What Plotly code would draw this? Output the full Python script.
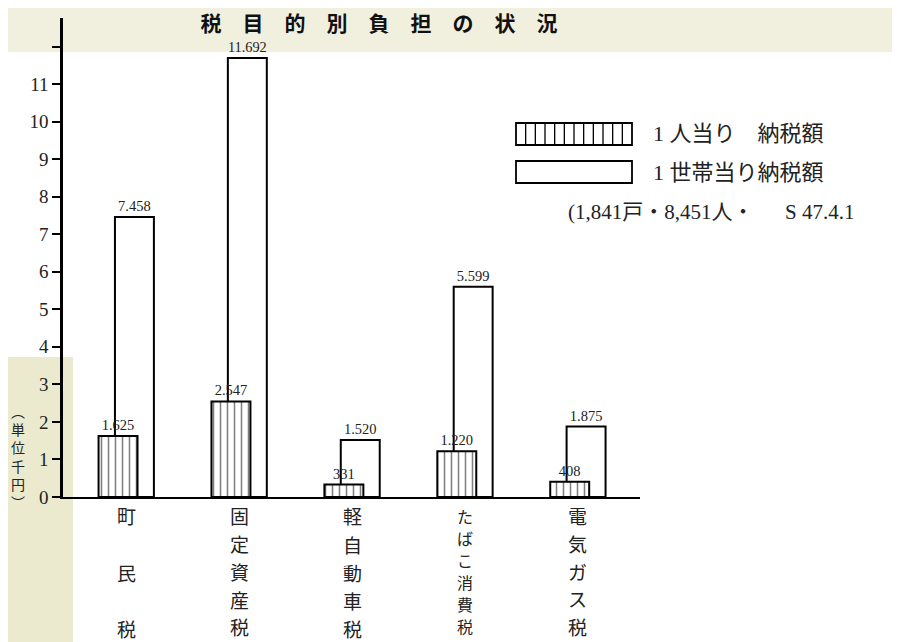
import plotly.graph_objects as go

# ---- data ----
categories = ["町民税", "固定資産税", "軽自動車税", "たばこ消費税", "電気ガス税"]
per_person_yen = [1625, 2547, 331, 1220, 408]        # 1人当り 納税額 (円)
per_household_yen = [7458, 11692, 1520, 5599, 1875]  # 1世帯当り納税額 (円)
y_tick_vals = [0, 1, 2, 3, 4, 5, 6, 7, 8, 9, 10, 11, 12]
y_tick_text = ["0", "1", "2", "3", "4", "5", "6", "7", "8", "9", "10", "11", ""]
series_names = ["1 人当り　納税額", "1 世帯当り納税額"]
note_text = "(1,841戸・8,451人・　\u2002S 47.4.1"
title_chars = list("税目的別負担の状況")
unit_text = "︵<br>単<br>位<br>千<br>円<br>︶"

# layout constants for the vertical category labels (pixel pitch / size)
label_pitch = [56, 27.7, 28, 22, 27.5]
label_size = [19, 19, 19, 16, 19]
label_first_px = 516

def fmt(v):
    return f"{v:,}".replace(",", ".")

xs = list(range(len(categories)))
pp = [v / 1000 for v in per_person_yen]
ph = [v / 1000 for v in per_household_yen]

SERIF = "Liberation Serif, Noto Sans CJK JP"
CJK = "Noto Sans CJK JP"
TXT = "#222"

# plot area (page pixels): x 63..640, y 18..497 ; page has an 8px body margin
PX0, PX1, PY0, PY1 = 63, 640, 18, 497
OFF = 8
W, H = 900 - OFF, 642 - OFF
def px2x(px):
    return (px - PX0) / (PX1 - PX0)
def py2y(py):
    return (PY1 - py) / (PY1 - PY0)

fig = go.Figure()
fig.add_trace(go.Bar(
    x=xs, y=ph, width=0.345, offset=-0.1, name=series_names[1],
    marker=dict(color="white", line=dict(color="black", width=2)),
    text=[fmt(v) for v in per_household_yen], textposition="outside",
    textfont=dict(family=SERIF, size=14.5, color=TXT), cliponaxis=False,
    showlegend=False,
))
fig.add_trace(go.Bar(
    x=xs, y=pp, width=0.345, offset=-0.245, name=series_names[0],
    marker=dict(color="white", line=dict(color="black", width=2),
                pattern=dict(shape="|", size=7, solidity=0.22, fgcolor="black", bgcolor="white")),
    text=[fmt(v) for v in per_person_yen], textposition="outside",
    textfont=dict(family=SERIF, size=14.5, color=TXT), cliponaxis=False,
    showlegend=False,
))

# category labels (vertical text, one character per annotation)
for i, cat in enumerate(categories):
    for k, ch in enumerate(cat):
        fig.add_annotation(x=xs[i], xref="x", y=py2y(label_first_px + label_pitch[i] * k), yref="paper",
                           xanchor="center", yanchor="middle", text=ch, showarrow=False,
                           font=dict(family=CJK, size=label_size[i], color=TXT))

# unit label
fig.add_annotation(x=px2x(18), xref="paper", y=py2y(456), yref="paper", xanchor="center", yanchor="middle",
                   text=unit_text, showarrow=False, font=dict(family=CJK, size=14, color=TXT))

# background tint of the scanned page + manual legend
shapes = [
    dict(type="rect", xref="paper", yref="paper", x0=px2x(0), x1=px2x(900), y0=py2y(52), y1=py2y(0),
         line=dict(width=0), fillcolor="#f1f0df", layer="below"),
    dict(type="rect", xref="paper", yref="paper", x0=px2x(0), x1=px2x(73), y0=py2y(642), y1=py2y(357),
         line=dict(width=0), fillcolor="#ebeacf", layer="below"),
]
bx0, bx1 = px2x(516), px2x(632)
boxes = [(py2y(145), py2y(123)), (py2y(183), py2y(161))]
for (y0, y1) in boxes:
    shapes.append(dict(type="rect", xref="paper", yref="paper", x0=bx0, x1=bx1, y0=y0, y1=y1,
                       line=dict(color="black", width=1.8), fillcolor="white"))
n_str = 12
for k in range(1, n_str):
    xx = bx0 + (bx1 - bx0) * k / n_str
    shapes.append(dict(type="line", xref="paper", yref="paper", x0=xx, x1=xx, y0=boxes[0][0], y1=boxes[0][1],
                       line=dict(color="black", width=1.3)))
fig.update_layout(shapes=shapes)
fig.add_annotation(x=px2x(651), xref="paper", y=py2y(134), yref="paper", xanchor="left", yanchor="middle",
                   text=series_names[0], showarrow=False, font=dict(family=SERIF, size=22, color=TXT))
fig.add_annotation(x=px2x(651), xref="paper", y=py2y(172), yref="paper", xanchor="left", yanchor="middle",
                   text=series_names[1], showarrow=False, font=dict(family=SERIF, size=22, color=TXT))
fig.add_annotation(x=px2x(566), xref="paper", y=py2y(212), yref="paper", xanchor="left", yanchor="middle",
                   text=note_text, showarrow=False, font=dict(family=SERIF, size=21, color=TXT))

fig.update_layout(
    width=W, height=H,
    margin=dict(l=PX0 - OFF, r=W - (PX1 - OFF), t=PY0 - OFF, b=H - (PY1 - OFF)),
    paper_bgcolor="white", plot_bgcolor="white",
    barmode="overlay",
    title=dict(text="\u2002\u2002".join(title_chars), x=(379 - OFF) / W, xanchor="center",
               y=1 - (24 - OFF) / H, yanchor="middle",
               font=dict(family=CJK, size=21, color="#111", weight="bold")),
    xaxis=dict(range=[-0.56, 4.55], showgrid=False, zeroline=False, showticklabels=False,
               ticks="", showline=True, linecolor="black", linewidth=1.5),
    yaxis=dict(range=[0, 12.76], tickvals=y_tick_vals, ticktext=y_tick_text, ticks="outside",
               ticklen=8, tickwidth=2, tickcolor="black", showgrid=False, zeroline=False,
               showline=True, linecolor="black", linewidth=2.5,
               tickfont=dict(family=SERIF, size=19, color=TXT)),
)

fig.write_html("out.html")
